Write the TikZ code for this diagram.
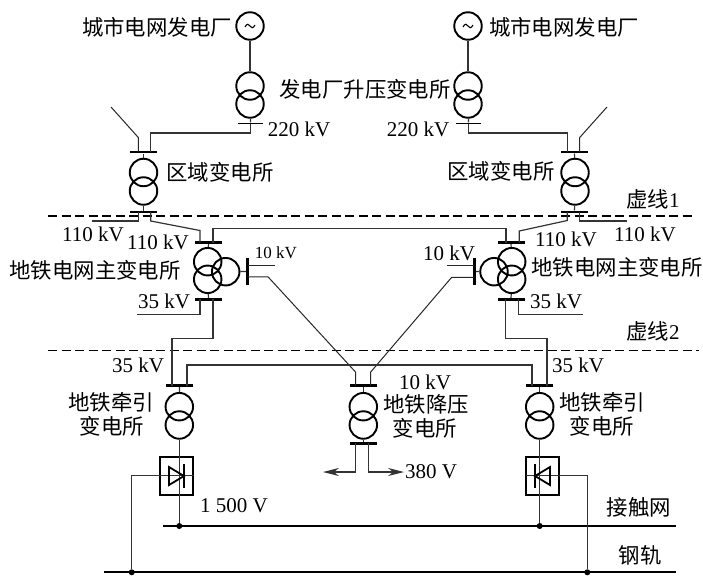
\documentclass[tikz,border=0pt]{standalone}
\usepackage{fontspec}
\setmainfont{Liberation Serif}
\newfontfamily\cjk{Noto Sans CJK SC}
\usetikzlibrary{arrows.meta}
\tikzset{
  winding/.style={circle,draw=black,line width=1.9pt,minimum size=27.5pt,inner sep=0pt},
  hbus/.style={rectangle,fill=black,minimum width=27pt,minimum height=2.6pt,inner sep=0pt},
  thinbus/.style={rectangle,fill=black,minimum width=25pt,minimum height=1.4pt,inner sep=0pt},
  vbus/.style={rectangle,fill=black,minimum width=2.6pt,minimum height=27pt,inner sep=0pt},
  wire/.style={line width=1.2pt,draw=black!80},
  thinwire/.style={line width=1pt,draw=black!85},
  rail/.style={line width=1.9pt,draw=black},
  dashline/.style={line width=1.1pt,dash pattern=on 9pt off 4.5pt},
  dotn/.style={circle,fill=black,minimum size=6pt,inner sep=0pt},
  cn/.style={inner sep=0pt,font=\fontsize{21.4}{24}\selectfont\cjk},
  vl/.style={inner sep=0pt,font=\fontsize{21}{24}\selectfont},
  vs/.style={inner sep=0pt,font=\fontsize{17}{20}\selectfont},
  rectbox/.style={rectangle,draw=black,line width=1.9pt,inner sep=0pt,minimum width=33.5pt,minimum height=38.5pt},
  tip/.style={-{Stealth[length=16pt,width=8pt]}}
}
\begin{document}
\begin{tikzpicture}[x=1pt,y=-1pt]
\useasboundingbox (0,0) rectangle (703,575);
% dashed lines
\coordinate (d1a) at (48,216); \coordinate (d1b) at (695,216);
\coordinate (d2a) at (48,350.7); \coordinate (d2b) at (699,350.7);
\draw[dashline] (d1a) -- (d1b);
\draw[dashline] (d2a) -- (d2b);
% generators
\node[winding] (gL) at (250,26) {};
\node[winding] (gR) at (468,26) {};
\draw[line width=1.1pt] (245,27) .. controls (247,23) and (249,24) .. (250,26) .. controls (251,28) and (253,29) .. (255,25);
\draw[line width=1.1pt] (463,27) .. controls (465,23) and (467,24) .. (468,26) .. controls (469,28) and (471,29) .. (473,25);
% step-up transformers
\node[winding] (suLa) at (250,86) {};
\node[winding] (suLb) at (250,104) {};
\node[winding] (suRa) at (468,86) {};
\node[winding] (suRb) at (468,104) {};
\node[thinbus] (buL) at (250.5,123.3) {};
\node[thinbus] (buR) at (468.5,123.3) {};
\draw[wire] (gL) -- (suLa);
\draw[wire] (gR) -- (suRa);
\draw[wire] (suLb) -- (buL);
\draw[wire] (suRb) -- (buR);
% regional substations
\node[winding] (rLa) at (143.5,172.5) {};
\node[winding] (rLb) at (143.5,191) {};
\node[winding] (rRa) at (575,172.5) {};
\node[winding] (rRb) at (575,191) {};
\node[hbus] (rLt) at (143.5,152) {};
\node[hbus] (rLu) at (143.5,212) {};
\node[hbus] (rRt) at (574.5,152) {};
\node[hbus] (rRu) at (574.5,212) {};
\draw[wire] (rLt) -- (rLa);
\draw[wire] (rLb) -- (rLu);
\draw[wire] (rRt) -- (rRa);
\draw[wire] (rRb) -- (rRu);
% feeds from step-up to regional
\coordinate (a1) at (250.5,133); \coordinate (a2) at (150.7,133); \coordinate (a3) at (150.7,152);
\draw[wire] (buL) -- (a1) -- (a2) -- (a3);
\coordinate (b1) at (468.5,133); \coordinate (b2) at (567.3,133); \coordinate (b3) at (567.3,152);
\draw[wire] (buR) -- (b1) -- (b2) -- (b3);
% open stubs above regional
\coordinate (c1) at (138.3,152); \coordinate (c2) at (138.3,137.5); \coordinate (c3) at (111,107);
\draw[thinwire] (c1) -- (c2) -- (c3);
\coordinate (e1) at (579.7,152); \coordinate (e2) at (579.7,137.5); \coordinate (e3) at (607,107);
\draw[thinwire] (e1) -- (e2) -- (e3);
% main transformers
\node[winding] (mLa) at (207.7,261.7) {};
\node[winding] (mLb) at (207.7,279.3) {};
\node[winding] (mLc) at (225.7,271.7) {};
\node[winding] (mRa) at (511.7,261.7) {};
\node[winding] (mRb) at (511.7,279.3) {};
\node[winding] (mRc) at (494,271.7) {};
\node[hbus] (mLt) at (208.5,242.7) {};
\node[hbus] (mLu) at (208.5,299.3) {};
\node[vbus] (mLs) at (247.7,271.5) {};
\node[hbus] (mRt) at (511,242.7) {};
\node[hbus] (mRu) at (511,299.3) {};
\node[vbus] (mRs) at (474.3,271.5) {};
\draw[wire] (mLt) -- (mLa);
\draw[wire] (mLb) -- (mLu);
\draw[wire] (mLc) -- (mLs);
\draw[wire] (mRt) -- (mRa);
\draw[wire] (mRb) -- (mRu);
\draw[wire] (mRc) -- (mRs);
% regional to main
\coordinate (f1) at (138.3,212); \coordinate (f2) at (138.3,221); \coordinate (f3) at (92,221);
\draw[wire] (f1) -- (f2) -- (f3);
\coordinate (g1) at (150.7,212); \coordinate (g2) at (150.7,221); \coordinate (g3) at (200,230.5); \coordinate (g4) at (200,242.7);
\draw[wire] (g1) -- (g2) -- (g3) -- (g4);
\coordinate (h1) at (579.7,212); \coordinate (h2) at (579.7,221); \coordinate (h3) at (627,221);
\draw[wire] (h1) -- (h2) -- (h3);
\coordinate (i1) at (567.3,212); \coordinate (i2) at (567.3,220.5); \coordinate (i3) at (519.3,231); \coordinate (i4) at (519.3,242.7);
\draw[wire] (i1) -- (i2) -- (i3) -- (i4);
\coordinate (j1) at (213,242.7); \coordinate (j2) at (213,228.5); \coordinate (j3) at (506,228.5); \coordinate (j4) at (506,242.7);
\draw[wire] (j1) -- (j2) -- (j3) -- (j4);
% 10 kV stubs and links to step-down
\coordinate (k1) at (247.7,265); \coordinate (k2) at (275,265);
\draw[thinwire] (k1) -- (k2);
\coordinate (l1) at (474.3,265); \coordinate (l2) at (446.7,265);
\draw[thinwire] (l1) -- (l2);
% step-down
\node[winding] (sda) at (363.3,406.7) {};
\node[winding] (sdb) at (363.3,425) {};
\node[hbus] (sdt) at (363.3,385.7) {};
\node[hbus] (sdu) at (363.3,443.3) {};
\draw[wire] (sdt) -- (sda);
\draw[wire] (sdb) -- (sdu);
\coordinate (m1) at (247.7,276.8); \coordinate (m2) at (268,276.8); \coordinate (m3) at (355.5,372); \coordinate (m4) at (355.5,385.7);
\draw[thinwire] (m1) -- (m2) -- (m3) -- (m4);
\coordinate (n1) at (474.3,277.3); \coordinate (n2) at (451.7,277.3); \coordinate (n3) at (370.7,372); \coordinate (n4) at (370.7,385.7);
\draw[thinwire] (n1) -- (n2) -- (n3) -- (n4);
% traction transformers
\node[winding] (tLa) at (179.3,406.7) {};
\node[winding] (tLb) at (179.3,425) {};
\node[hbus] (tLt) at (179.5,385.7) {};
\node[winding] (tRa) at (539.7,406.7) {};
\node[winding] (tRb) at (539.7,425) {};
\node[hbus] (tRt) at (539.7,385.7) {};
\draw[wire] (tLt) -- (tLa);
\draw[wire] (tRt) -- (tRa);
% main to traction
\coordinate (o1) at (213,299.3); \coordinate (o2) at (213,338.5); \coordinate (o3) at (172,338.5); \coordinate (o4) at (172,385.7);
\draw[wire] (o1) -- (o2) -- (o3) -- (o4);
\coordinate (p1) at (505.3,299.3); \coordinate (p2) at (505.3,338.5); \coordinate (p3) at (547,338.5); \coordinate (p4) at (547,385.7);
\draw[wire] (p1) -- (p2) -- (p3) -- (p4);
\coordinate (q1) at (200,299.3); \coordinate (q2) at (200,314.7); \coordinate (q3) at (136.7,314.7);
\draw[wire] (q1) -- (q2) -- (q3);
\coordinate (r1) at (518.7,299.3); \coordinate (r2) at (518.7,314.7); \coordinate (r3) at (582.7,314.7);
\draw[wire] (r1) -- (r2) -- (r3);
% 35 kV tie
\coordinate (s1) at (187,385.7); \coordinate (s2) at (187,365); \coordinate (s3) at (532,365); \coordinate (s4) at (532,385.7);
\draw[wire] (s1) -- (s2) -- (s3) -- (s4);
% 380 V
\coordinate (t1) at (355.5,443.3); \coordinate (t2) at (355.5,472); \coordinate (t3) at (323,472);
\draw[wire,line width=1.3pt,tip] (t1) -- (t2) -- (t3);
\coordinate (u1) at (368.5,443.3); \coordinate (u2) at (368.5,472); \coordinate (u3) at (404,472);
\draw[wire,line width=1.3pt,tip] (u1) -- (u2) -- (u3);
% rectifiers
\node[rectbox] (bxL) at (176.5,476) {};
\node[rectbox] (bxR) at (542.5,476) {};
\coordinate (vL) at (179.3,526); \coordinate (vR) at (539.7,526);
\coordinate (cat1) at (163,526); \coordinate (cat2) at (676,526);
\coordinate (rl1) at (104,572.3); \coordinate (rl2) at (676,572.3);
\draw[rail] (cat1) -- (cat2);
\draw[rail] (rl1) -- (rl2);
\node[dotn] (dvL) at (vL) {};
\node[dotn] (dvR) at (vR) {};
\node[dotn] (drL) at (131.7,572.3) {};
\node[dotn] (drR) at (587.3,572.3) {};
\draw[wire] (tLb) -- (dvL);
\draw[wire] (tRb) -- (dvR);
\coordinate (w1) at (193.5,475.7); \coordinate (w2) at (131.7,475.7);
\draw[wire] (w1) -- (w2) -- (drL);
\coordinate (x1) at (525.5,475.7); \coordinate (x2) at (587.3,475.7);
\draw[wire] (x1) -- (x2) -- (drR);
% diodes
\draw[line width=1.8pt,line join=miter] (169,467) -- (184,476) -- (169,485) -- cycle;
\draw[line width=2.4pt] (184,464) -- (184,488);
\draw[line width=1.8pt,line join=miter] (550,467) -- (535,476) -- (550,485) -- cycle;
\draw[line width=2.4pt] (535,464) -- (535,488);
% labels
\node[cn] (t01) at (157,27) {城市电网发电厂};
\node[cn] (t02) at (564,27) {城市电网发电厂};
\node[cn] (t03) at (365,89) {发电厂升压变电所};
\node[vl] (t04) at (299,129) {220 kV};
\node[vl] (t05) at (418,129) {220 kV};
\node[cn] (t06) at (220,172) {区域变电所};
\node[cn] (t07) at (501,171) {区域变电所};
\node[cn] (t08) at (653,199) {虚线\fontsize{21}{24}\selectfont\rmfamily 1};
\node[vl] (t09) at (93,234) {110 kV};
\node[vl] (t10) at (158,242) {110 kV};
\node[vl] (t11) at (566,239) {110 kV};
\node[vl] (t12) at (645,234) {110 kV};
\node[cn] (t13) at (95,270) {地铁电网主变电所};
\node[cn] (t14) at (617,267) {地铁电网主变电所};
\node[vs] (t15) at (276,253) {10 kV};
\node[vl] (t16) at (449,253) {10 kV};
\node[vl] (t17) at (164,301) {35 kV};
\node[vl] (t18) at (556,301) {35 kV};
\node[cn] (t19) at (653,331) {虚线\fontsize{21}{24}\selectfont\rmfamily 2};
\node[vl] (t20) at (138,365) {35 kV};
\node[vl] (t21) at (578,365) {35 kV};
\node[vl] (t22) at (425,382) {10 kV};
\node[cn] (t23) at (111,402) {地铁牵引};
\node[cn] (t24) at (112,426) {变电所};
\node[cn] (t25) at (426,404) {地铁降压};
\node[cn] (t26) at (425,428) {变电所};
\node[cn] (t27) at (602,402) {地铁牵引};
\node[cn] (t28) at (602,426) {变电所};
\node[vl] (t29) at (431,472) {380 V};
\node[vl] (t30) at (234,506) {1 500 V};
\node[cn] (t31) at (639,507) {接触网};
\node[cn] (t32) at (640,555) {钢轨};
\end{tikzpicture}
\end{document}
